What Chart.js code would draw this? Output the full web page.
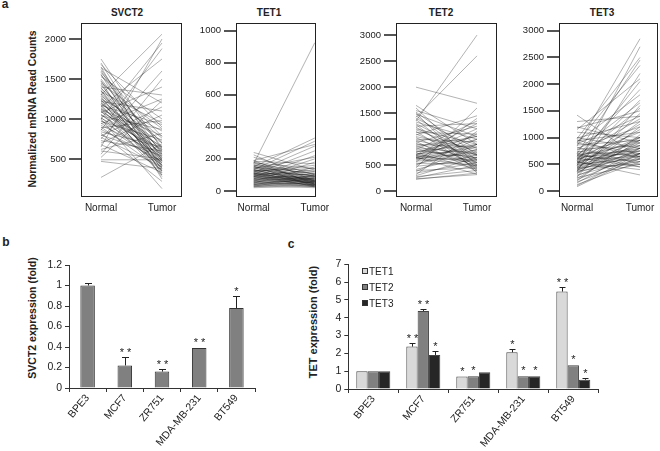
<!DOCTYPE html>
<html>
<head>
<meta charset="utf-8">
<script src="https://cdn.jsdelivr.net/npm/chart.js@4.4.1/dist/chart.umd.min.js"></script>
<style>
  body { margin: 0; width: 660px; height: 451px; background: #fff; position: relative; overflow: hidden;
         font-family: "Liberation Sans", Arial, sans-serif; color: #222; }
  canvas { position: absolute; }
  .txt { position: absolute; white-space: nowrap; line-height: 1; transform: translate(-50%, -50%); }
  .rot { transform: translate(-50%, -50%) rotate(-90deg); }
  .b { font-weight: bold; }
  .legend { position: absolute; font-size: 10px; line-height: 1; color: #222; }
  .legend div { position: absolute; white-space: nowrap; transform: translateY(-50%); }
  .legend span { display: inline-block; width: 4px; height: 4px; border: 1px solid #333; margin-right: 1px; vertical-align: 1px; }
</style>
</head>
<body>
<div class="txt b" style="left:5px;top:4px;font-size:12px">a</div>
<div class="txt b" style="left:6px;top:242px;font-size:12px">b</div>
<div class="txt b" style="left:291px;top:244px;font-size:12px">c</div>

<div class="txt b" style="left:127px;top:13px;font-size:10px">SVCT2</div>
<div class="txt b" style="left:269px;top:13px;font-size:10px">TET1</div>
<div class="txt b" style="left:441px;top:13px;font-size:10px">TET2</div>
<div class="txt b" style="left:602px;top:13px;font-size:10px">TET3</div>

<div class="txt rot b" style="left:33px;top:109px;font-size:10.4px">Normalized mRNA Read Counts</div>
<div class="txt rot b" style="left:32px;top:318px;font-size:10.5px">SVCT2 expression (fold)</div>
<div class="txt rot b" style="left:313px;top:322px;font-size:11px">TET expression (fold)</div>

<canvas id="svct2" width="190" height="225" style="left:0;top:0"></canvas>
<canvas id="tet1" width="150" height="225" style="left:190px;top:0"></canvas>
<canvas id="tet2" width="165" height="225" style="left:340px;top:0"></canvas>
<canvas id="tet3" width="155" height="225" style="left:505px;top:0"></canvas>
<canvas id="foldB" width="260" height="226" style="left:0;top:225px"></canvas>
<canvas id="foldC" width="400" height="226" style="left:260px;top:225px"></canvas>
<div class="legend" id="legendC" style="left:362px;top:0"></div>

<script>
// ---- panel a: paired normal / tumor read counts ----
const groups = ['Normal', 'Tumor'];

const svct2Normal = [1750, 1700, 1680, 1650, 1640, 1620, 1600, 1580, 1560, 1550, 1530, 1500, 1480, 1470, 1450, 1440,
  1420, 1400, 1390, 1380, 1360, 1350, 1340, 1320, 1310, 1300, 1290, 1280, 1260, 1250, 1240, 1230, 1220, 1210, 1200,
  1190, 1180, 1170, 1160, 1150, 1140, 1130, 1120, 1110, 1100, 1090, 1080, 1060, 1050, 1040, 1020, 1010, 1000, 980,
  970, 950, 940, 920, 900, 890, 870, 860, 840, 820, 800, 790, 770, 750, 730, 700, 680, 650, 620, 600, 560, 520, 490,
  470, 270, 1000];
const svct2Tumor = [620, 480, 900, 350, 1200, 560, 420, 780, 300, 650, 1000, 520, 250, 700, 880, 400,
  590, 1300, 470, 760, 330, 540, 950, 610, 420, 2060, 720, 380, 500, 850, 280, 640, 1100, 450, 560,
  700, 350, 930, 480, 1750, 600, 410, 790, 520, 300, 660, 1400, 450, 580, 870, 390, 620, 1950, 510,
  740, 430, 1250, 560, 360, 980, 470, 1880, 650, 220, 540, 1150, 400, 1600, 600, 1050, 330, 2000, 820, 500, 1500, 1230, 490,
  380, 690, 130];
const svct2Ticks = [500, 1000, 1500, 2000];

const tet1Normal = [240, 225, 210, 190, 185, 180, 175, 170, 165, 160, 155, 150, 148, 145, 140, 135, 132, 130, 128, 125,
  120, 118, 115, 112, 110, 108, 105, 102, 100, 98, 95, 92, 90, 88, 85, 82, 80, 78, 75, 72, 70, 68, 65, 62, 60, 58, 55,
  52, 50, 48, 45, 42, 40, 38, 35, 32, 30, 28, 25, 20, 190, 175, 160, 140, 120, 100, 90, 110, 130, 150];
const tet1Tumor = [130, 60, 100, 40, 170, 90, 50, 925, 120, 70, 30, 330, 110, 60, 85, 40, 310, 95, 55, 140,
  35, 75, 280, 50, 100, 65, 25, 250, 80, 45, 120, 60, 30, 220, 90, 50, 70, 35, 200, 60, 110, 40, 80, 25, 180, 55, 95,
  35, 65, 150, 45, 75, 30, 100, 55, 20, 85, 40, 60, 30, 290, 140, 105, 210, 160, 130, 75, 45, 65, 90];
const tet1Ticks = [0, 200, 400, 600, 800, 1000];

const tet2Normal = [2000, 1650, 1600, 1550, 1520, 1500, 1480, 1450, 1420, 1400, 1380, 1350, 1330, 1300, 1280, 1250,
  1230, 1200, 1180, 1150, 1130, 1100, 1080, 1050, 1030, 1000, 980, 960, 940, 920, 900, 880, 860, 840, 820, 800, 780,
  760, 740, 720, 700, 690, 680, 670, 660, 650, 640, 630, 620, 600, 580, 560, 540, 520, 500, 480, 450, 420, 400, 380,
  350, 320, 300, 280, 260, 240, 230, 700, 750, 650];
const tet2Tumor = [1690, 900, 500, 1200, 700, 350, 1050, 600, 2600, 820, 450, 3000, 1000, 680, 400, 1300,
  550, 900, 750, 430, 1100, 620, 1450, 800, 500, 950, 700, 380, 1250, 600, 850, 480, 1050, 720, 560, 1350, 650,
  900, 420, 780, 1000, 550, 1200, 700, 850, 600, 480, 1100, 750, 900, 650, 1400, 520, 800, 1000, 600, 1600, 700, 450, 900,
  550, 1150, 650, 400, 500, 320, 350, 1300, 1060, 330];
const tet2Ticks = [0, 500, 1000, 1500, 2000, 2500, 3000];

const tet3Normal = [1420, 1200, 1180, 1150, 1000, 990, 980, 960, 940, 920, 900, 880, 860, 840, 820, 800, 780, 760, 740,
  720, 700, 690, 680, 670, 660, 650, 640, 630, 620, 610, 600, 590, 580, 570, 560, 550, 540, 530, 520, 510, 500, 490,
  480, 470, 460, 450, 440, 430, 420, 410, 400, 390, 380, 370, 360, 350, 340, 320, 300, 280, 260, 250, 230, 210, 190,
  170, 150, 120, 100, 80, 1300, 1100, 900, 700, 550];
const tet3Tumor = [620, 900, 1500, 2100, 800, 1300, 2500, 600, 1100, 1800, 700, 1400, 950, 2850, 500, 1200, 850, 1650, 650,
  1000, 2450, 750, 1350, 550, 900, 1900, 700, 1100, 450, 800, 1550, 950, 650, 2050, 1250, 750, 400, 1000, 850, 1700, 600, 1150,
  800, 2700, 700, 950, 500, 1300, 850, 650, 1450, 750, 1000, 550, 2200, 900, 700, 1200, 600, 800, 1600, 500, 950, 700, 1050,
  600, 800, 550, 700, 650, 1400, 1000, 2350, 450, 300];
const tet3Ticks = [0, 500, 1000, 1500, 2000, 2500, 3000];

// ---- panels b and c: cell line qPCR ----
const cellLines = ['BPE3', 'MCF7', 'ZR751', 'MDA-MB-231', 'BT549'];

const svct2Fold = [1.0, 0.22, 0.16, 0.39, 0.78];
const svct2FoldErrTop = [1.02, 0.30, 0.19, 0.39, 0.895];
const svct2Sig = ['', '**', '**', '**', '*'];
const svct2FoldTicks = [0, 0.2, 0.4, 0.6, 0.8, 1, 1.2];

const tetNames = ['TET1', 'TET2', 'TET3'];
const tet1Fold = [1.0, 2.38, 0.70, 2.06, 5.47];
const tet2Fold = [1.0, 4.38, 0.72, 0.72, 1.33];
const tet3Fold = [1.0, 1.91, 0.94, 0.72, 0.52];
const tet1ErrTop = [1.04, 2.57, 0.75, 2.23, 5.75];
const tet2ErrTop = [1.02, 4.51, 0.74, 0.75, 1.38];
const tet3ErrTop = [1.06, 2.13, 0.96, 0.75, 0.60];
const tet1Sig = ['', '**', '*', '*', '**'];
const tet2Sig = ['', '**', '*', '*', '*'];
const tet3Sig = ['', '*', '', '*', '*'];
const tetFoldTicks = [0, 1, 2, 3, 4, 5, 6, 7];

const FONT = '"Liberation Sans", Arial, sans-serif';
Chart.defaults.font.family = FONT;
Chart.defaults.color = '#222';

const boxPlugin = {
    id: 'box',
    afterDraw(chart) {
        const { ctx, chartArea: a } = chart;
        ctx.save();
        ctx.strokeStyle = '#222';
        ctx.lineWidth = 1;
        ctx.strokeRect(Math.round(a.left) + 0.5, Math.round(a.top) + 0.5,
            Math.round(a.right - a.left) - 1, Math.round(a.bottom - a.top) - 1);
        ctx.restore();
    }
};

function pairedChart(id, normal, tumor, ticks, yMin, yMax, xMin, xMax, yWidth, padRight) {
    const datasets = normal.map((n, i) => ({
        data: [{ x: 1, y: n }, { x: 2, y: tumor[i] }],
        borderColor: 'rgba(20,20,20,0.5)',
        borderWidth: 0.65,
        pointRadius: 0,
        fill: false
    }));
    new Chart(document.getElementById(id), {
        type: 'line',
        data: { datasets },
        plugins: [boxPlugin],
        options: {
            responsive: false,
            animation: false,
            events: [],
            layout: { padding: { top: 23, right: padRight, left: 0, bottom: 0 } },
            plugins: { legend: { display: false }, tooltip: { enabled: false } },
            scales: {
                x: {
                    type: 'linear', min: xMin, max: xMax,
                    afterBuildTicks: s => { s.ticks = [{ value: 1 }, { value: 2 }]; },
                    afterFit: s => { s.height = 28; },
                    grid: { display: false, drawTicks: false },
                    border: { display: false },
                    ticks: { callback: v => groups[v - 1], padding: 5, maxRotation: 0, autoSkip: false,
                             font: { size: 10 }, color: '#222' }
                },
                y: {
                    min: yMin, max: yMax,
                    afterBuildTicks: s => { s.ticks = ticks.map(v => ({ value: v })); },
                    afterFit: s => { s.width = yWidth; },
                    grid: { drawOnChartArea: false, tickLength: 12, color: '#555', lineWidth: 2 },
                    border: { display: false },
                    ticks: { callback: v => String(v), padding: 3, font: { size: 9.5 }, color: '#222' }
                }
            }
        }
    });
}

pairedChart('svct2', svct2Normal, svct2Tumor, svct2Ticks, 25, 2200, 0.672, 2.328, 81, 8);
pairedChart('tet1', tet1Normal, tet1Tumor, tet1Ticks, -38, 1048, 0.71, 2.02, 46, 24);
pairedChart('tet2', tet2Normal, tet2Tumor, tet2Ticks, -110, 3232, 0.672, 2.328, 56, 8);
pairedChart('tet3', tet3Normal, tet3Tumor, tet3Ticks, -113, 3145, 0.714, 2.286, 54, 2);

function errorBars(tops, sigs, cap) {
    return {
        id: 'errorBars',
        afterDatasetsDraw(chart) {
            const { ctx } = chart;
            const y = chart.scales.y;
            ctx.save();
            ctx.strokeStyle = '#222';
            ctx.lineWidth = 1;
            ctx.fillStyle = '#222';
            ctx.font = '11px ' + FONT;
            ctx.textAlign = 'center';
            ctx.textBaseline = 'alphabetic';
            tops.forEach((top, i) => {
                chart.getDatasetMeta(i).data.forEach((bar, j) => {
                    const x = Math.round(bar.x) + 0.5;
                    const yt = Math.round(y.getPixelForValue(top[j])) + 0.5;
                    if (bar.y - yt > 1) {
                        ctx.beginPath();
                        ctx.moveTo(x, bar.y);
                        ctx.lineTo(x, yt);
                        ctx.moveTo(x - cap, yt);
                        ctx.lineTo(x + cap, yt);
                        ctx.stroke();
                    }
                    const s = sigs[i][j];
                    if (s) ctx.fillText(s.split('').join(' '), x, Math.min(yt, bar.y) - 2);
                });
            });
            ctx.restore();
        }
    };
}

function foldScales(ticks, max, yWidth, xHeight) {
    return {
        x: {
            afterFit: s => { s.height = xHeight; },
            grid: { offset: true, drawOnChartArea: false, tickLength: 4, color: '#333' },
            border: { display: true, color: '#333' },
            ticks: { minRotation: 50, maxRotation: 50, autoSkip: false, padding: 0,
                     font: { size: 10.5 }, color: '#222' }
        },
        y: {
            min: 0, max,
            afterBuildTicks: s => { s.ticks = ticks.map(v => ({ value: v })); },
            afterFit: s => { s.width = yWidth; },
            grid: { drawOnChartArea: false, tickLength: 4, color: '#333' },
            border: { display: true, color: '#333' },
            ticks: { callback: v => String(v), padding: 3, font: { size: 10.5 }, color: '#222' }
        }
    };
}

new Chart(document.getElementById('foldB'), {
    type: 'bar',
    data: {
        labels: cellLines,
        datasets: [{ data: svct2Fold, backgroundColor: '#808080', borderColor: '#333', borderWidth: 1,
                     barPercentage: 0.39, categoryPercentage: 1 }]
    },
    plugins: [errorBars([svct2FoldErrTop], [svct2Sig], 3.5)],
    options: {
        responsive: false, animation: false, events: [],
        layout: { padding: { top: 40, right: 5, left: 0, bottom: 0 } },
        plugins: { legend: { display: false }, tooltip: { enabled: false } },
        scales: foldScales(svct2FoldTicks, 1.2, 69, 63)
    }
});

const tetColors = ['#d9d9d9', '#808080', '#262626'];
const tetFolds = [tet1Fold, tet2Fold, tet3Fold];
new Chart(document.getElementById('foldC'), {
    type: 'bar',
    data: {
        labels: cellLines,
        datasets: tetNames.map((name, i) => ({
            label: name, data: tetFolds[i], backgroundColor: tetColors[i], borderColor: '#444', borderWidth: 1,
            barPercentage: 1, categoryPercentage: 0.68
        }))
    },
    plugins: [errorBars([tet1ErrTop, tet2ErrTop, tet3ErrTop], [tet1Sig, tet2Sig, tet3Sig], 3)],
    options: {
        responsive: false, animation: false, events: [],
        layout: { padding: { top: 39.3, right: 61.7, left: 0, bottom: 0 } },
        plugins: { legend: { display: false }, tooltip: { enabled: false } },
        scales: foldScales(tetFoldTicks, 7, 88.3, 62)
    }
});

// legend for panel c, inside the plot area
const legendRows = [272, 288, 304];
document.getElementById('legendC').innerHTML = tetNames.map((name, i) =>
    `<div style="top:${legendRows[i]}px"><span style="background:${tetColors[i]}"></span>${name}</div>`
).join('');
</script>
</body>
</html>
